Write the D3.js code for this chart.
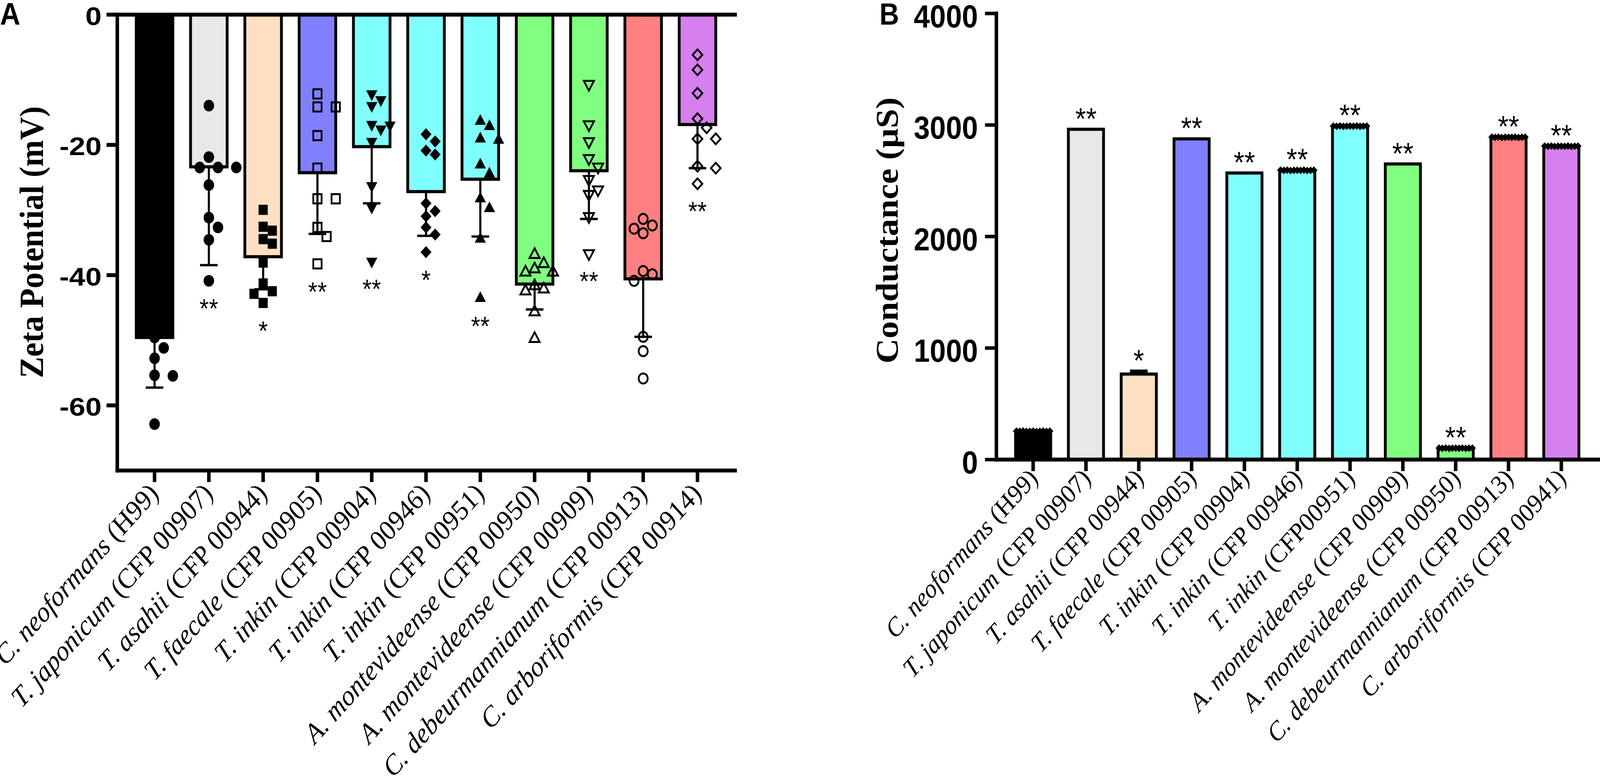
<!DOCTYPE html>
<html>
<head>
<meta charset="utf-8">
<script src="https://cdn.jsdelivr.net/npm/d3@7.9.0/dist/d3.min.js"></script>
<style>
  html, body { margin: 0; padding: 0; background: #fff; overflow: hidden; }
  svg { display: block; width: 100vw; height: 100vh; }
</style>
</head>
<body>
<svg id="chart" viewBox="0 0 4550 2007" preserveAspectRatio="none"></svg>
<script>
// ---- panel A: zeta potential ----
const zetaSpecies = ['C. neoformans', 'T. japonicum', 'T. asahii', 'T. faecale', 'T. inkin', 'T. inkin',
  'T. inkin', 'A. montevideense', 'A. montevideense', 'C. debeurmannianum', 'C. arboriformis'];
const zetaStrains = ['(H99)', '(CFP 00907)', '(CFP 00944)', '(CFP 00905)', '(CFP 00904)', '(CFP 00946)',
  '(CFP 00951)', '(CFP 00950)', '(CFP 00909)', '(CFP 00913)', '(CFP 00914)'];
const zetaMean = [-49.6, -23.4, -37.2, -24.3, -20.3, -27.2, -25.3, -41.4, -24.0, -40.6, -16.9];
const zetaSD = [7.7, 15.1, 5.0, 9.4, 8.7, 6.8, 8.8, 3.9, 7.4, 8.9, 6.7];
const zetaPoints = [
  [-40.5, -44.0, -47.0, -49.6, -51.2, -52.8, -55.4, -55.5, -62.9],
  [-14.0, -21.9, -23.5, -23.5, -23.5, -26.2, -31.2, -32.7, -34.6, -40.9],
  [-30.0, -32.6, -33.2, -34.5, -35.2, -38.1, -41.3, -42.5, -42.9, -44.3],
  [-12.2, -14.2, -14.2, -18.6, -23.6, -28.3, -28.3, -32.7, -34.1, -38.3],
  [-12.2, -13.1, -14.0, -16.9, -17.0, -17.6, -19.5, -26.3, -29.6, -37.9],
  [-18.4, -19.5, -20.9, -21.5, -29.0, -30.2, -31.0, -32.7, -33.8, -36.5],
  [-16.4, -17.2, -19.1, -19.3, -23.1, -24.5, -28.3, -29.8, -34.5, -43.6],
  [-36.9, -38.3, -39.1, -39.6, -39.6, -41.7, -42.2, -42.5, -45.7, -49.8],
  [-10.7, -16.9, -19.5, -22.1, -23.4, -25.3, -26.9, -27.6, -31.0, -36.7],
  [-31.4, -32.4, -32.9, -33.6, -39.4, -39.9, -40.9, -49.5, -51.7, -55.9],
  [-6.2, -8.5, -12.1, -16.0, -17.4, -19.1, -19.1, -23.3, -23.6, -26.0]
];
const zetaStars = ['', '**', '*', '**', '**', '*', '**', '', '**', '', '**'];
const zetaTicks = [0, -20, -40, -60];

// ---- panel B: conductance ----
const condSpecies = ['C. neoformans', 'T. japonicum', 'T. asahii', 'T. faecale', 'T. inkin', 'T. inkin',
  'T. inkin', 'A. montevideense', 'A. montevideense', 'C. debeurmannianum', 'C. arboriformis'];
const condStrains = ['(H99)', '(CFP 00907)', '(CFP 00944)', '(CFP 00905)', '(CFP 00904)', '(CFP 00946)',
  '(CFP00951)', '(CFP 00909)', '(CFP 00950)', '(CFP 00913)', '(CFP 00941)'];
const condMean = [252, 2960, 765, 2874, 2568, 2592, 2988, 2649, 100, 2888, 2808];
const condSD = [0, 0, 25, 0, 0, 0, 0, 0, 0, 0, 0];
const condPoints = [
  [253, 252, 254, 251, 252, 253, 250, 252, 254, 251, 253],
  [],
  [],
  [],
  [],
  [2593, 2591, 2594, 2590, 2592, 2593, 2591, 2594, 2590, 2592, 2593],
  [2989, 2987, 2990, 2986, 2988, 2989, 2987, 2990, 2986, 2988, 2989],
  [],
  [101, 99, 102, 98, 100, 101, 99, 102, 98, 100, 101],
  [2889, 2887, 2890, 2886, 2888, 2889, 2887, 2890, 2886, 2888, 2889],
  [2809, 2807, 2810, 2806, 2808, 2809, 2807, 2810, 2806, 2808, 2809]
];
const condStars = ['', '**', '*', '**', '**', '**', '**', '**', '**', '**', '**'];
const condTicks = [0, 1000, 2000, 3000, 4000];

// ---- styles ----
const barColors = ['#000000', '#e8e8e8', '#fde0c2', '#8080ff', '#80ffff', '#80ffff',
  '#80ffff', '#80ff80', '#80ff80', '#ff8080', '#d580ee'];
const zetaMarkers = ['dot', 'dot', 'square', 'squareOpen', 'triDown', 'diamond',
  'triUp', 'triUpOpen', 'triDownOpen', 'dotOpen', 'diamondOpen'];
const markerDefs = {
  dot: { type: d3.symbolCircle, size: 700, rot: 0, open: false },
  dotOpen: { type: d3.symbolCircle, size: 520, rot: 0, open: true },
  square: { type: d3.symbolSquare, size: 676, rot: 0, open: false },
  squareOpen: { type: d3.symbolSquare, size: 560, rot: 0, open: true },
  triUp: { type: d3.symbolTriangle, size: 440, rot: 0, open: false },
  triDown: { type: d3.symbolTriangle, size: 440, rot: 180, open: false },
  triUpOpen: { type: d3.symbolTriangle, size: 360, rot: 0, open: true },
  triDownOpen: { type: d3.symbolTriangle, size: 360, rot: 180, open: true },
  diamond: { type: d3.symbolSquare, size: 484, rot: 45, open: false },
  diamondOpen: { type: d3.symbolSquare, size: 380, rot: 45, open: true }
};
const SANS = '"Liberation Sans", Arial, Helvetica, sans-serif';
const SERIF = '"Liberation Serif", "Times New Roman", serif';

const svg = d3.select('#chart');

// spread points sideways where they would overlap
function swarmOffsets(values, y, step, minDist) {
  const order = d3.range(values.length).sort((a, b) => values[b] - values[a]);
  const placed = [];
  const offsets = [];
  order.forEach((i) => {
    const py = y(values[i]);
    for (let k = 0; k < 40; k++) {
      const dx = Math.ceil(k / 2) * step * (k % 2 ? 1 : -1);
      if (placed.every((p) => Math.hypot(p[0] - dx, p[1] - py) >= minDist)) {
        placed.push([dx, py]);
        offsets[i] = dx;
        break;
      }
    }
  });
  return offsets;
}

function categoryLabels(axisG, labels, species, strains, fontSize, dx, dy) {
  axisG.selectAll('.tick text').each(function (d) {
    const i = labels.indexOf(d);
    const t = d3.select(this).text(null)
      .attr('x', 0).attr('y', 0).attr('dy', null)
      .attr('text-anchor', 'end')
      .attr('transform', `translate(${dx},${dy}) rotate(-45)`)
      .attr('font-family', SERIF)
      .attr('font-size', fontSize)
      .attr('fill', '#000');
    t.append('tspan').attr('font-style', 'italic').text(species[i]);
    t.append('tspan').text(' ' + strains[i]);
  });
}

// ================= Panel A =================
const labelsA = zetaSpecies.map((s, i) => s + ' ' + zetaStrains[i]);
const xA = d3.scaleBand().domain(labelsA).range([333, 2090]).paddingInner(0.326).paddingOuter(0.353);
const yA = d3.scaleLinear().domain([-70, 0]).range([1204, 37]);
const gA = svg.append('g');
const cxA = (i) => xA(labelsA[i]) + xA.bandwidth() / 2;

gA.append('g').selectAll('rect').data(zetaMean).join('rect')
  .attr('x', (d, i) => xA(labelsA[i]))
  .attr('y', yA(0))
  .attr('width', xA.bandwidth())
  .attr('height', (d) => yA(d) - yA(0))
  .attr('fill', (d, i) => barColors[i])
  .attr('stroke', '#000')
  .attr('stroke-width', 8);

const errA = gA.append('g').attr('stroke', '#000').attr('stroke-width', 6);
zetaMean.forEach((m, i) => {
  const lo = yA(m - zetaSD[i]);
  errA.append('line').attr('x1', cxA(i)).attr('x2', cxA(i)).attr('y1', yA(m)).attr('y2', lo);
  errA.append('line').attr('x1', cxA(i) - 25).attr('x2', cxA(i) + 25).attr('y1', lo).attr('y2', lo);
});

const ptsA = gA.append('g');
zetaPoints.forEach((vals, i) => {
  const m = markerDefs[zetaMarkers[i]];
  const offs = swarmOffsets(vals, yA, 26, 27);
  ptsA.append('g').selectAll('path').data(vals).join('path')
    .attr('d', d3.symbol(m.type, m.size)())
    .attr('transform', (d, j) => `translate(${cxA(i) + offs[j]},${yA(d)}) rotate(${m.rot})`)
    .attr('fill', m.open ? 'none' : '#000')
    .attr('stroke', '#000')
    .attr('stroke-width', m.open ? 5 : 0)
    .attr('stroke-linejoin', 'miter');
});

gA.append('g').selectAll('text').data(zetaStars).join('text')
  .attr('x', (d, i) => cxA(i))
  .attr('y', (d, i) => yA(d3.min(zetaPoints[i])) + 94)
  .attr('text-anchor', 'middle')
  .attr('font-family', SANS)
  .attr('font-size', 68)
  .text((d) => d);

// zero line along the top
gA.append('g').attr('transform', `translate(0,${yA(0)})`)
  .call(d3.axisTop(xA).tickSize(0).tickSizeOuter(0).tickFormat(''))
  .call((g) => g.select('.domain').attr('stroke-width', 10).attr('stroke-linecap', 'square'));

const axYA = gA.append('g').attr('transform', `translate(${xA.range()[0]},0)`)
  .call(d3.axisLeft(yA).tickValues(zetaTicks).tickSize(30).tickSizeOuter(0).tickPadding(14)
    .tickFormat((d) => String(d)));
axYA.select('.domain').attr('stroke-width', 10).attr('stroke-linecap', 'square');
axYA.selectAll('.tick line').attr('stroke-width', 10);
axYA.selectAll('.tick text')
  .attr('x', -44 / 1.3)
  .attr('dy', '0.41em')
  .attr('transform', 'scale(1.3,1)')
  .attr('font-family', SANS).attr('font-weight', 'bold').attr('font-size', 64).attr('fill', '#000');

const axXA = gA.append('g').attr('transform', `translate(0,${yA(-70)})`)
  .call(d3.axisBottom(xA).tickSize(30).tickSizeOuter(0));
axXA.select('.domain').attr('stroke-width', 10).attr('stroke-linecap', 'square');
axXA.selectAll('.tick line').attr('stroke-width', 10);
categoryLabels(axXA, labelsA, zetaSpecies, zetaStrains, 73, 15, 63);

gA.append('text')
  .attr('transform', 'translate(122,620) rotate(-90)')
  .attr('text-anchor', 'middle')
  .attr('font-family', SERIF).attr('font-weight', 'bold').attr('font-size', 97)
  .attr('textLength', 696).attr('lengthAdjust', 'spacingAndGlyphs')
  .text('Zeta Potential (mV)');

gA.append('text')
  .attr('x', 0).attr('y', 63)
  .attr('font-family', SANS).attr('font-weight', 'bold').attr('font-size', 80)
  .text('A');

// ================= Panel B =================
const labelsB = condSpecies.map((s, i) => s + ' ' + condStrains[i]);
const xB = d3.scaleBand().domain(labelsB).range([2833, 4545]).paddingInner(0.334).paddingOuter(0.366);
const yB = d3.scaleLinear().domain([0, 4000]).range([1176, 34]);
const gB = svg.append('g');
const cxB = (i) => xB(labelsB[i]) + xB.bandwidth() / 2;

gB.append('g').selectAll('rect').data(condMean).join('rect')
  .attr('x', (d, i) => xB(labelsB[i]))
  .attr('y', (d) => yB(d))
  .attr('width', xB.bandwidth())
  .attr('height', (d) => yB(0) - yB(d))
  .attr('fill', (d, i) => barColors[i])
  .attr('stroke', '#000')
  .attr('stroke-width', 8);

const errB = gB.append('g').attr('stroke', '#000').attr('stroke-width', 9);
condMean.forEach((m, i) => {
  if (!condSD[i]) return;
  const hi = yB(m + condSD[i]);
  errB.append('line').attr('x1', cxB(i)).attr('x2', cxB(i)).attr('y1', yB(m)).attr('y2', hi);
  errB.append('line').attr('x1', cxB(i) - 25).attr('x2', cxB(i) + 25).attr('y1', hi).attr('y2', hi);
});

const ptsB = gB.append('g');
condPoints.forEach((vals, i) => {
  ptsB.append('g').selectAll('path').data(vals).join('path')
    .attr('d', d3.symbol(d3.symbolSquare, 196)())
    .attr('transform', (d, j) => `translate(${cxB(i) + (j - (vals.length - 1) / 2) * 9.5},${yB(d)}) rotate(45)`)
    .attr('fill', '#000');
});

gB.append('g').selectAll('text').data(condStars).join('text')
  .attr('x', (d, i) => cxB(i))
  .attr('y', (d, i) => yB(d3.max([condMean[i] + condSD[i], ...condPoints[i]])))
  .attr('text-anchor', 'middle')
  .attr('font-family', SANS)
  .attr('font-size', 78)
  .text((d) => d);

const axYB = gB.append('g').attr('transform', `translate(${xB.range()[0]},0)`)
  .call(d3.axisLeft(yB).tickValues(condTicks).tickSize(32).tickSizeOuter(0).tickPadding(20)
    .tickFormat((d) => String(d)));
axYB.select('.domain').attr('stroke-width', 10).attr('stroke-linecap', 'square');
axYB.selectAll('.tick line').attr('stroke-width', 9);
axYB.selectAll('.tick text')
  .attr('dy', '0.43em')
  .attr('font-family', SANS).attr('font-weight', 'bold').attr('font-size', 82).attr('fill', '#000');

const axXB = gB.append('g').attr('transform', `translate(0,${yB(0)})`)
  .call(d3.axisBottom(xB).tickSize(30).tickSizeOuter(0));
axXB.select('.domain').attr('stroke-width', 10).attr('stroke-linecap', 'square');
axXB.selectAll('.tick line').attr('stroke-width', 10);
categoryLabels(axXB, labelsB, condSpecies, condStrains, 68, 17, 52);

gB.append('text')
  .attr('transform', 'translate(2553,590) rotate(-90)')
  .attr('text-anchor', 'middle')
  .attr('font-family', SERIF).attr('font-weight', 'bold').attr('font-size', 89)
  .text('Conductance (µS)');

gB.append('text')
  .attr('x', 2501).attr('y', 63)
  .attr('font-family', SANS).attr('font-weight', 'bold').attr('font-size', 77)
  .text('B');
</script>
</body>
</html>
